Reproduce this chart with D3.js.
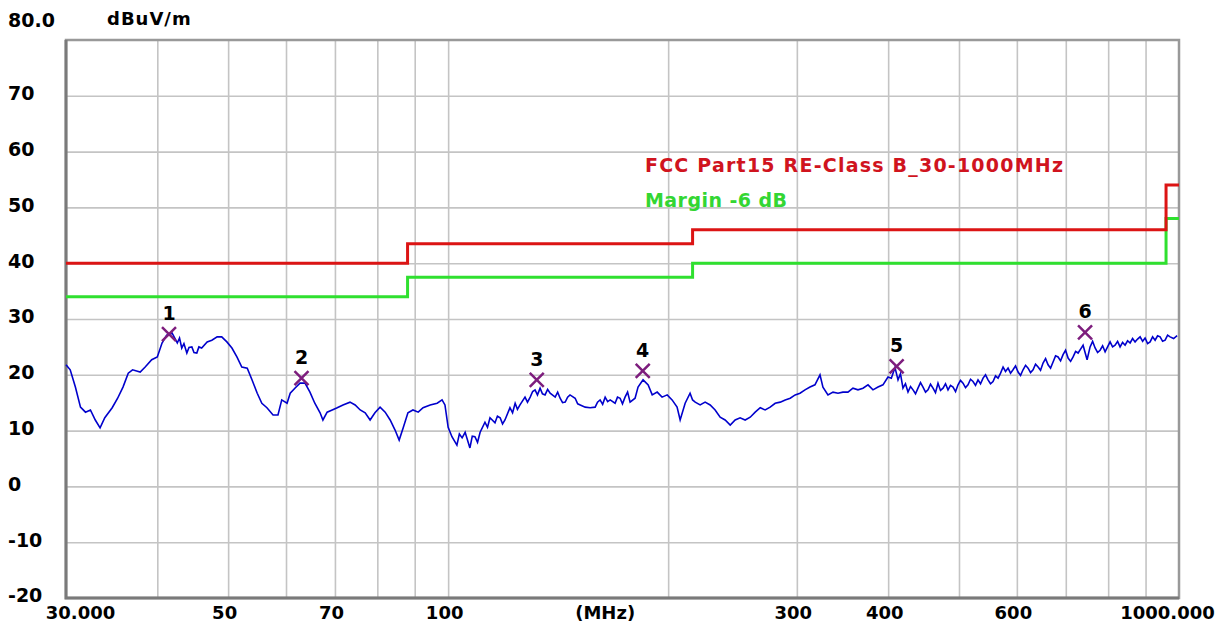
<!DOCTYPE html>
<html>
<head>
<meta charset="utf-8">
<script src="https://cdn.jsdelivr.net/npm/d3@7"></script>
<style>
body{margin:0;background:#fff;}
svg{display:block;}
svg text{font-family:'DejaVu Sans',sans-serif;}
</style>
</head>
<body>
<div id="chart"></div>
<script>
// measured trace, MHz
const freqs = [
	30.0, 30.4, 30.9, 31.4, 31.9, 32.4, 32.9, 33.4, 33.9, 34.7,
	35.3, 35.9, 36.5, 37.0, 37.9, 38.5, 39.3, 40.0, 40.6, 41.2,
	41.9, 42.6, 42.9, 43.2, 43.5, 43.9, 44.2, 44.6, 44.9, 45.3,
	45.6, 46.0, 46.8, 47.5, 48.3, 49.0, 49.8, 50.6, 51.4, 52.2,
	53.1, 53.9, 54.8, 55.6, 56.5, 57.6, 58.5, 59.2, 60.2, 60.8,
	61.7, 62.7, 63.7, 64.7, 65.7, 66.8, 67.4, 68.3, 69.4, 70.5,
	71.8, 73.4, 74.6, 75.8, 77.0, 78.2, 79.4, 80.7, 82.0, 83.3,
	84.6, 85.7, 86.8, 88.1, 89.5, 91.0, 92.4, 94.5, 96.6, 98.1,
	99.0, 100.0, 101.2, 102.8, 103.6, 104.5, 105.5, 107.1, 107.9, 108.8,
	109.7, 110.6, 112.3, 113.2, 114.1, 115.9, 116.8, 117.8, 118.7, 119.6,
	121.5, 122.5, 123.5, 124.4, 125.4, 127.4, 128.4, 129.5, 130.5, 131.5,
	132.5, 133.6, 134.6, 135.7, 136.8, 137.9, 140.1, 141.2, 142.3, 143.4,
	144.6, 145.7, 146.8, 149.2, 150.4, 151.6, 154.0, 156.4, 158.9, 160.1,
	161.4, 162.7, 164.0, 165.3, 166.6, 169.2, 170.5, 171.9, 173.2, 174.6,
	176.0, 177.4, 180.2, 181.9, 184.8, 187.8, 190.2, 193.2, 196.2, 199.4,
	202.5, 205.7, 207.7, 211.0, 214.3, 216.0, 217.8, 221.2, 224.7, 228.3,
	231.9, 235.6, 239.3, 243.2, 247.0, 250.9, 254.9, 259.0, 263.1, 267.3,
	271.5, 275.8, 280.2, 284.7, 289.2, 293.8, 298.4, 303.0, 307.8, 312.7,
	317.6, 322.7, 325.7, 330.9, 336.2, 341.5, 346.9, 352.4, 358.0, 363.7,
	369.5, 375.4, 381.3, 387.4, 393.5, 399.8, 404.0, 408.7, 412.6, 415.8,
	419.1, 422.4, 425.8, 429.2, 432.6, 436.0, 439.4, 442.9, 446.4, 450.0,
	453.5, 457.1, 460.7, 464.3, 468.0, 471.7, 475.5, 479.2, 483.0, 486.8,
	490.7, 494.6, 498.5, 502.4, 506.4, 510.4, 514.4, 518.5, 522.6, 526.7,
	530.9, 535.1, 539.4, 543.6, 547.9, 552.2, 556.6, 561.0, 565.5, 570.0,
	574.5, 579.0, 583.6, 588.2, 592.8, 597.5, 602.3, 607.0, 611.8, 616.7,
	621.6, 626.5, 631.4, 636.4, 641.5, 646.5, 651.6, 656.8, 662.0, 667.2,
	672.5, 677.8, 683.2, 688.6, 694.0, 699.5, 705.1, 710.7, 716.3, 722.0,
	727.7, 733.4, 739.2, 748.6, 755.7, 761.7, 767.7, 773.8, 779.9, 786.1,
	792.3, 798.5, 804.8, 811.2, 817.6, 824.1, 830.6, 837.2, 843.8, 850.5,
	857.2, 864.0, 870.8, 877.7, 884.7, 891.7, 898.7, 905.8, 913.0, 920.2,
	927.5, 934.8, 942.2, 949.7, 957.2, 964.8, 972.4, 983.2, 994.1
];
// measured trace, dBuV/m
const levels = [
	21.8, 20.9, 17.8, 14.2, 13.3, 13.7, 11.9, 10.5, 12.3, 14.1,
	15.8, 17.8, 20.3, 20.9, 20.5, 21.4, 22.7, 23.2, 25.7, 27.1,
	27.5, 25.7, 26.6, 24.8, 25.6, 23.9, 24.9, 25.0, 24.0, 23.9,
	25.0, 24.8, 25.9, 26.2, 26.8, 26.8, 25.9, 24.8, 23.2, 21.4,
	21.2, 19.1, 16.7, 14.9, 14.1, 12.8, 12.8, 15.5, 14.9, 16.7,
	17.6, 18.5, 18.5, 16.9, 14.9, 13.2, 11.9, 13.3, 13.7, 14.1,
	14.6, 15.1, 14.6, 13.7, 13.2, 11.9, 13.2, 14.2, 13.3, 11.9,
	10.1, 8.3, 10.5, 13.2, 13.7, 13.3, 14.1, 14.6, 14.9, 15.5,
	14.6, 10.6, 8.9, 7.4, 9.4, 8.7, 9.7, 6.9, 9.0, 8.9,
	7.9, 9.7, 11.5, 10.6, 12.3, 11.4, 12.6, 12.3, 11.2, 11.9,
	14.1, 13.2, 14.9, 13.8, 14.6, 16.0, 15.1, 16.0, 17.0, 17.3,
	16.4, 17.6, 16.6, 16.4, 17.4, 16.7, 16.0, 16.9, 15.8, 15.0,
	15.1, 16.0, 16.4, 15.8, 14.8, 14.6, 14.2, 14.1, 14.2, 15.1,
	15.5, 14.7, 16.0, 15.2, 15.5, 14.9, 16.0, 15.8, 14.8, 16.0,
	16.9, 15.1, 15.8, 17.8, 19.1, 18.2, 16.4, 16.9, 16.0, 16.4,
	15.5, 14.2, 11.9, 14.9, 16.7, 15.5, 15.1, 14.6, 15.1, 14.6,
	13.7, 12.4, 11.9, 11.0, 11.9, 12.3, 11.9, 12.4, 13.3, 14.1,
	13.7, 14.2, 14.9, 15.1, 15.5, 15.8, 16.4, 16.7, 17.3, 17.8,
	18.2, 20.0, 17.8, 16.4, 16.9, 16.7, 16.9, 16.9, 17.6, 17.3,
	17.6, 18.2, 17.3, 17.8, 18.2, 19.6, 19.4, 21.3, 19.1, 20.2,
	17.6, 18.4, 16.9, 17.9, 17.3, 16.6, 17.6, 18.6, 17.8, 16.9,
	17.3, 18.3, 17.6, 16.8, 18.5, 17.2, 17.6, 18.4, 17.3, 18.1,
	17.8, 17.0, 18.2, 19.0, 18.5, 17.7, 18.2, 19.2, 18.8, 18.1,
	19.1, 18.4, 19.4, 20.0, 19.1, 18.4, 18.8, 19.8, 19.4, 20.3,
	21.4, 20.6, 21.2, 20.3, 20.9, 21.6, 20.5, 19.9, 20.9, 21.7,
	21.2, 20.4, 20.9, 21.9, 21.4, 20.8, 22.1, 22.9, 21.8, 21.2,
	22.3, 23.4, 23.2, 22.5, 23.6, 24.4, 23.0, 22.4, 23.2, 24.2,
	23.9, 24.6, 25.3, 22.7, 25.0, 26.0, 24.8, 24.0, 24.4, 25.2,
	24.1, 25.0, 25.9, 25.0, 25.3, 26.0, 25.0, 25.8, 25.3, 26.1,
	25.7, 26.5, 25.9, 26.4, 26.8, 26.0, 26.6, 25.6, 25.9, 26.8,
	26.2, 27.0, 26.8, 26.0, 26.2, 27.1, 26.8, 26.5, 27.0
];

const limitFreqs = [30, 88, 216, 960, 1000];
const limitLevels = [40, 43.5, 46, 54, 54];
const marginLevels = [34, 37.5, 40, 48, 48];

const markerFreqs = [41.5, 63.0, 132.2, 184.6, 410.8, 743.8];
const markerLevels = [27.3, 19.4, 19.1, 20.7, 21.5, 27.6];
const markerLabels = ['1', '2', '3', '4', '5', '6'];

const xGridValues = [40, 50, 60, 70, 80, 90, 100, 200, 300, 400, 500, 600, 700, 800, 900];
const xTickValues = [30, 50, 70, 100, 300, 400, 600, 1000];
const xTickLabels = ['30.000', '50', '70', '100', '300', '400', '600', '1000.000'];
const yTickValues = [80, 70, 60, 50, 40, 30, 20, 10, 0, -10, -20];
const yTickLabels = ['80.0', '70', '60', '50', '40', '30', '20', '10', '0', '-10', '-20'];

const limitName = 'FCC Part15 RE-Class B_30-1000MHz';
const marginName = 'Margin -6 dB';

const W = 1232, H = 630;
const plot = {left: 66, right: 1179, top: 40, bottom: 598};
const FONT = "'DejaVu Sans', sans-serif";

const svg = d3.select('#chart').append('svg')
	.attr('width', W)
	.attr('height', H);

const x = d3.scaleLog().domain([30, 1000]).range([plot.left, plot.right]);
const y = d3.scaleLinear().domain([-20, 80]).range([plot.bottom, plot.top]);

// grid
svg.append('g')
	.attr('transform', `translate(0, ${plot.bottom})`)
	.call(d3.axisBottom(x).tickValues(xGridValues).tickFormat('').tickSize(-(plot.bottom - plot.top)))
	.call(g => g.select('.domain').remove())
	.selectAll('line').attr('stroke', '#c4c4c4').attr('stroke-width', 1.6);

svg.append('g')
	.attr('transform', `translate(${plot.left}, 0)`)
	.call(d3.axisLeft(y).tickValues(yTickValues.slice(1, -1)).tickFormat('').tickSize(-(plot.right - plot.left)))
	.call(g => g.select('.domain').remove())
	.selectAll('line').attr('stroke', '#c4c4c4').attr('stroke-width', 1.6);

// frame
svg.append('rect')
	.attr('x', plot.left)
	.attr('y', plot.top)
	.attr('width', plot.right - plot.left)
	.attr('height', plot.bottom - plot.top)
	.attr('fill', 'none')
	.attr('stroke', '#999')
	.attr('stroke-width', 2.5);
svg.append('path')
	.attr('d', `M${plot.left},${plot.top}V${plot.bottom}H${plot.right}`)
	.attr('fill', 'none')
	.attr('stroke', '#7a7a7a')
	.attr('stroke-width', 3);

// y labels
const yAxis = svg.append('g')
	.attr('transform', 'translate(8, 0)')
	.call(d3.axisLeft(y).tickValues(yTickValues).tickFormat((d, i) => yTickLabels[i]).tickSize(0));
yAxis.select('.domain').remove();
yAxis.selectAll('text')
	.attr('x', 0)
	.attr('dy', '0.36em')
	.attr('text-anchor', 'start')
	.attr('fill', '#000')
	.style('font-family', FONT)
	.style('font-size', '19px')
	.style('font-weight', 'bold')
	.attr('y', d => d === 80 ? -20 : -3);

svg.append('text')
	.attr('x', 107)
	.attr('y', 25)
	.style('font-size', '18px')
	.style('font-weight', 'bold')
	.attr('letter-spacing', 1)
	.text('dBuV/m');

// x labels
const xAxis = svg.append('g')
	.attr('transform', `translate(0, ${plot.bottom})`)
	.call(d3.axisBottom(x).tickValues(xTickValues).tickFormat((d, i) => xTickLabels[i]).tickSize(0));
xAxis.select('.domain').remove();
xAxis.selectAll('text')
	.attr('y', 21)
	.attr('dy', 0)
	.attr('fill', '#000')
	.style('font-family', FONT)
	.style('font-size', '18px')
	.style('font-weight', 'bold')
	.attr('dx', d => d === 30 ? 14 : d === 1000 ? -12 : -4);

svg.append('text')
	.attr('x', x(164))
	.attr('y', plot.bottom + 21)
	.attr('text-anchor', 'middle')
	.style('font-size', '18px')
	.style('font-weight', 'bold')
	.text('(MHz)');

// limit + margin
const step = d3.line()
	.x(d => x(d[0]))
	.y(d => y(d[1]))
	.curve(d3.curveStepAfter);

svg.append('path')
	.datum(d3.zip(limitFreqs, marginLevels))
	.attr('d', step)
	.attr('fill', 'none')
	.attr('stroke', '#2fe02f')
	.attr('stroke-width', 3);

svg.append('path')
	.datum(d3.zip(limitFreqs, limitLevels))
	.attr('d', step)
	.attr('fill', 'none')
	.attr('stroke', '#dc1414')
	.attr('stroke-width', 3);

// trace
const line = d3.line()
	.x(d => x(d[0]))
	.y(d => y(d[1]));

svg.append('path')
	.datum(d3.zip(freqs, levels))
	.attr('d', line)
	.attr('fill', 'none')
	.attr('stroke', '#0000cc')
	.attr('stroke-width', 1.6);

// legend
svg.append('text')
	.attr('x', 645)
	.attr('y', 172)
	.style('font-size', '19px')
	.style('font-weight', 'bold')
	.attr('fill', '#d0141e')
	.attr('textLength', 418)
	.attr('lengthAdjust', 'spacing')
	.text(limitName);

svg.append('text')
	.attr('x', 645)
	.attr('y', 207)
	.style('font-size', '19px')
	.style('font-weight', 'bold')
	.attr('fill', '#33d633')
	.attr('textLength', 142)
	.attr('lengthAdjust', 'spacing')
	.text(marginName);

// markers
const markers = svg.selectAll('.marker')
	.data(d3.zip(markerFreqs, markerLevels, markerLabels))
	.enter()
	.append('g')
	.attr('class', 'marker')
	.attr('transform', d => `translate(${x(d[0])}, ${y(d[1])})`);

markers.append('path')
	.attr('d', 'M-7,-7L7,7M-7,7L7,-7')
	.attr('stroke', '#7d1d7d')
	.attr('stroke-width', 2.5)
	.attr('fill', 'none');

markers.append('text')
	.attr('y', -14)
	.attr('text-anchor', 'middle')
	.style('font-size', '19px')
	.style('font-weight', 'bold')
	.text(d => d[2]);
</script>
</body>
</html>
